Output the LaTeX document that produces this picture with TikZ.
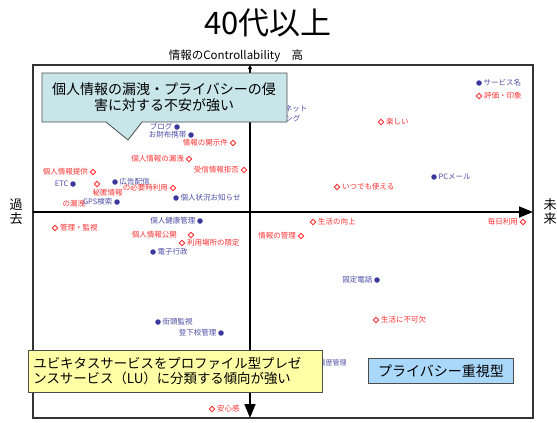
\documentclass[tikz,border=0pt]{standalone}
\usepackage{fontspec}
\setmainfont{Noto Sans CJK JP}
\usetikzlibrary{positioning,shapes.geometric,arrows.meta}

\definecolor{dotblue}{HTML}{3A3A9C}
\definecolor{txtblue}{HTML}{4C4CA6}
\definecolor{markred}{HTML}{FF3030}
\definecolor{calloutbg}{HTML}{C8E5E9}
\definecolor{notebg}{HTML}{FFFFA6}
\definecolor{typebg}{HTML}{A9D8FA}

\newcommand{\lbl}{\fontsize{7.5}{8}\selectfont}

\begin{document}
\begin{tikzpicture}[x=1pt, y=-1pt, node distance=1pt,
  bdot/.style = {circle, fill=dotblue, inner sep=0pt, minimum size=5.5pt},
  rmark/.style = {diamond, draw=markred, fill=white, line width=0.9pt, inner sep=0pt, minimum size=6pt},
  btext/.style = {text=txtblue, font=\lbl, inner sep=0.5pt},
  rtext/.style = {text=markred, font=\lbl, inner sep=0.5pt},
  axis/.style = {line width=1.6pt, black}]
\useasboundingbox (0,0) rectangle (557,423);

% title and axis names
\node (title) at (268,23) {\fontsize{31}{33}\selectfont 40代以上};
\node (ctrl) at (236,56) {\fontsize{11.5}{12}\selectfont 情報のControllability\quad 高};
\node[align=center, font=\fontsize{13}{14}\selectfont] (past) at (16,212) {過\\去};
\node[align=center, font=\fontsize{13}{14}\selectfont] (future) at (550,212) {未\\来};

% frame and axes
\draw[black!80, line width=1.3pt] (33,65) rectangle (533,418);
\coordinate (xl) at (33,212);
\coordinate (xr) at (533,212);
\coordinate (yt) at (250,65);
\coordinate (yb) at (250,418);
\draw[axis, -{Triangle[length=14pt,width=11pt]}] (xl) -- (xr);
\draw[axis, {Triangle[length=4pt,width=4pt]}-{Triangle[length=14pt,width=11pt]}] (yt) -- (yb);

% blue: services
\node[bdot] (blog) at (177,127) {};
\node[btext, left=of blog] (blogt) {ブログ};
\node[bdot] (saifu) at (191,135) {};
\node[btext, left=of saifu] (saifut) {お財布携帯};
\node[bdot] (etc) at (73,184) {};
\node[btext, left=of etc] (etct) {ETC};
\node[bdot] (koukoku) at (115,182) {};
\node[btext, right=of koukoku] (koukokut) {広告配信};
\node[bdot] (jokyo) at (176,198) {};
\node[btext, right=of jokyo] (jokyot) {個人状況お知らせ};
\node[rtext, anchor=west] (roei2) at (62,204) {の漏洩};
\node[bdot] (gps) at (117,202) {};
\node[btext, left=of gps] (gpst) {GPS検索};
\node[bdot] (svc) at (479,83) {};
\node[btext, right=of svc] (svct) {サービス名};
\node[bdot] (pcmail) at (434,177) {};
\node[btext, right=of pcmail] (pcmailt) {PCメール};
\node[bdot] (kenko) at (200,221) {};
\node[btext, left=of kenko] (kenkot) {個人健康管理};
\node[bdot] (denshi) at (153,252) {};
\node[btext, right=of denshi] (denshit) {電子行政};
\node[bdot] (kotei) at (377,280) {};
\node[btext, left=of kotei] (koteit) {固定電話};
\node[bdot] (gaito) at (158,322) {};
\node[btext, right=of gaito] (gaitot) {街頭監視};
\node[bdot] (toge) at (221,333) {};
\node[btext, left=of toge] (toget) {登下校管理};
\node[btext, anchor=east] (net) at (308,109) {ネット};
\node[btext, anchor=east] (ngu) at (301,119) {ング};
\node[btext, anchor=west, font=\fontsize{7}{7}\selectfont] (rireki) at (318,363) {履歴管理};

% red: impressions
\node[rmark] (kaiji) at (233,143) {};
\node[rtext, left=of kaiji] (kaijit) {情報の開示件};
\node[rmark] (roei) at (189,159) {};
\node[rtext, left=of roei] (roeit) {個人情報の漏洩};
\node[rmark] (jushin) at (244,170) {};
\node[rtext, left=of jushin] (jushint) {受信情報拒否};
\node[rmark] (teikyo) at (93,172) {};
\node[rtext, left=of teikyo] (teikyot) {個人情報提供};
\node[rmark] (hitoku) at (97,184) {};
\node[rtext, anchor=west] (hitokut) at (92,193) {秘匿情報};
\node[rmark] (hitsuyo) at (173,188) {};
\node[rtext, left=of hitsuyo] (hitsuyot) {の必要時利用};
\node[rmark] (hyoka) at (479,96) {};
\node[rtext, right=of hyoka] (hyokat) {評価・印象};
\node[rmark] (tanoshii) at (381,122) {};
\node[rtext, right=of tanoshii] (tanoshiit) {楽しい};
\node[rmark] (itsudemo) at (337,187) {};
\node[rtext, right=of itsudemo] (itsudemot) {いつでも使える};
\node[rmark] (koujo) at (313,222) {};
\node[rtext, right=of koujo] (koujot) {生活の向上};
\node[rmark] (mainichi) at (523,222) {};
\node[rtext, left=of mainichi] (mainichit) {毎日利用};
\node[rmark] (kanri) at (301,236) {};
\node[rtext, left=of kanri] (kanrit) {情報の管理};
\node[rmark] (fukaketsu) at (376,320) {};
\node[rtext, right=of fukaketsu] (fukaketsut) {生活に不可欠};
\node[rmark] (kanshi) at (55,228) {};
\node[rtext, right=of kanshi] (kanshit) {管理・監視};
\node[rmark] (kokai) at (191,235) {};
\node[rtext, left=10pt of kokai] (kokait) {個人情報公開};
\node[rmark] (basho) at (182,243) {};
\node[rtext, right=of basho] (bashot) {利用場所の限定};
\node[rmark] (anshin) at (212,409) {};
\node[rtext, right=of anshin] (anshint) {安心感};

% callouts
\draw[black!70, fill=calloutbg, line width=0.8pt] (42,73) -- (287,73) -- (287,122) -- (142,122) -- (128,140) -- (106,122) -- (42,122) -- cycle;
\node[align=center, font=\fontsize{14}{16.5}\selectfont] (worry) at (164,97) {個人情報の漏洩・プライバシーの侵\\害に対する不安が強い};
\node[draw=black!70, fill=notebg, line width=0.8pt, anchor=north west, minimum width=294pt, minimum height=42pt,
  align=left, inner xsep=5pt, font=\fontsize{13.4}{15}\selectfont, text width=284pt] (lu) at (28,350)
  {ユビキタスサービスをプロファイル型プレゼ\\ンスサービス（LU）に分類する傾向が強い};
\node[draw=black!70, fill=typebg, line width=0.8pt, minimum width=145pt, minimum height=25pt,
  font=\fontsize{14}{16}\selectfont] (privacy) at (441,371) {プライバシー重視型};
\end{tikzpicture}
\end{document}
